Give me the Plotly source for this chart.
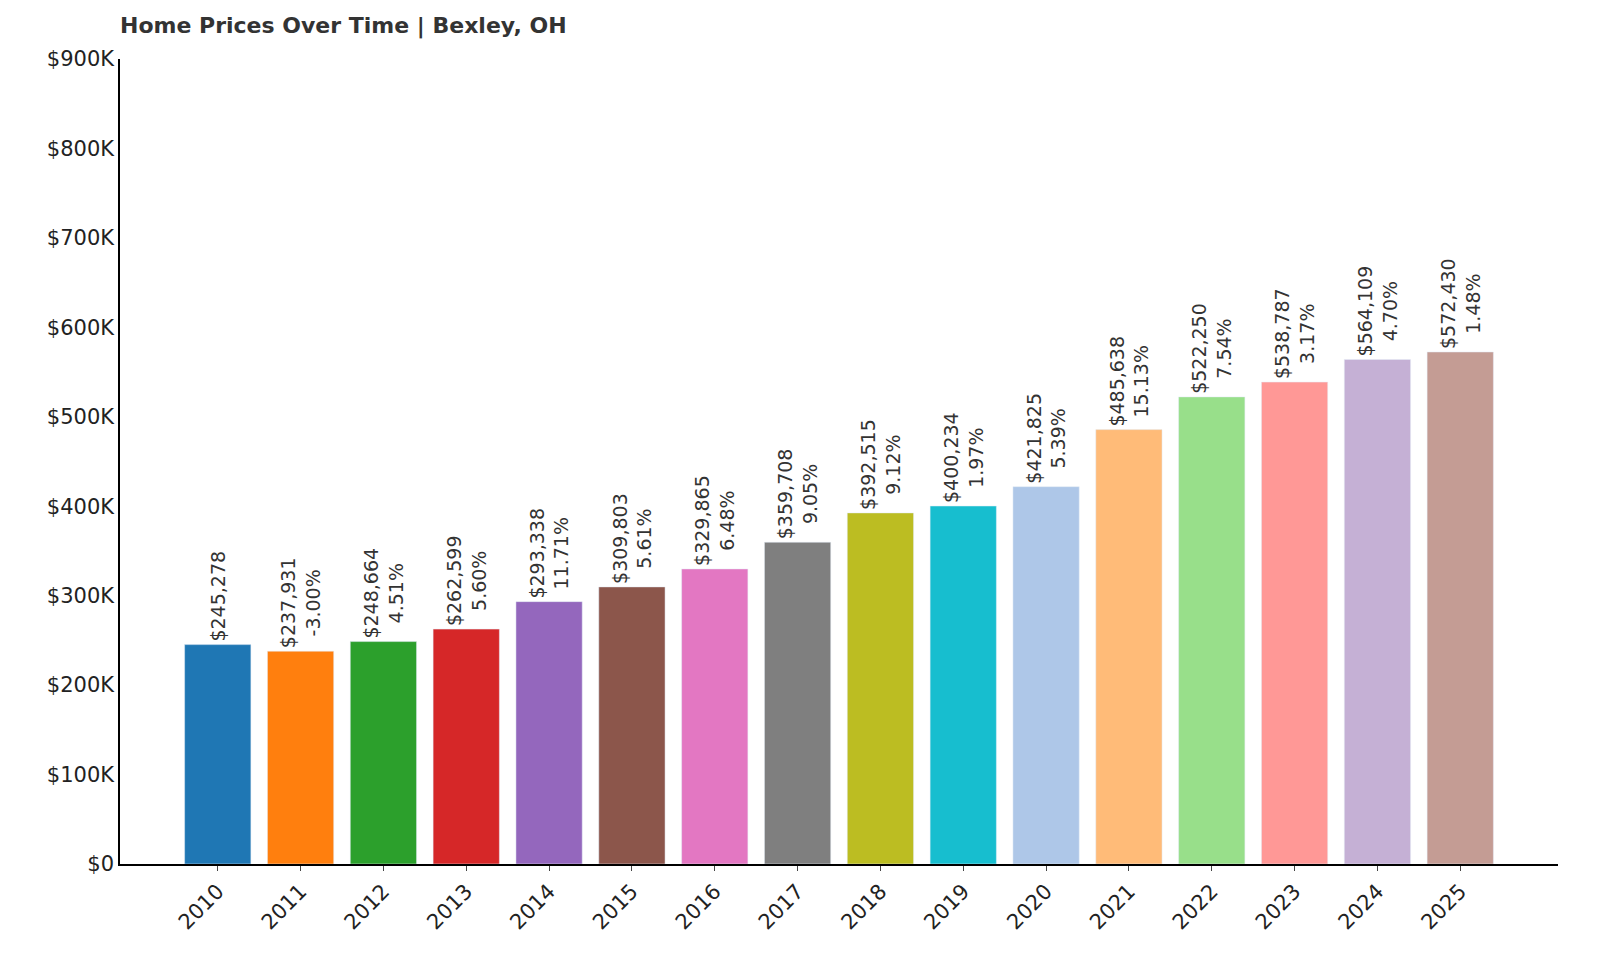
import plotly.graph_objects as go

years = ['2010', '2011', '2012', '2013', '2014', '2015', '2016', '2017',
         '2018', '2019', '2020', '2021', '2022', '2023', '2024', '2025']
prices = [245278, 237931, 248664, 262599, 293338, 309803, 329865, 359708,
          392515, 400234, 421825, 485638, 522250, 538787, 564109, 572430]
changes = [None, '-3.00%', '4.51%', '5.60%', '11.71%', '5.61%', '6.48%', '9.05%',
           '9.12%', '1.97%', '5.39%', '15.13%', '7.54%', '3.17%', '4.70%', '1.48%']
colors = ['#1f77b4', '#ff7f0e', '#2ca02c', '#d62728', '#9467bd', '#8c564b',
          '#e377c2', '#7f7f7f', '#bcbd22', '#17becf', '#aec7e8', '#ffbb78',
          '#98df8a', '#ff9896', '#c5b0d5', '#c49c94']

labels = []
for p, c in zip(prices, changes):
    t = f"${p:,}"
    if c:
        t += f"<br>{c}"
    labels.append(t)

xs = list(range(len(years)))
fig = go.Figure()
fig.add_trace(go.Bar(x=xs, y=prices, marker_color=colors, width=0.8,
                     text=labels, textposition='outside', textangle=-90,
                     constraintext='none', cliponaxis=False,
                     textfont=dict(size=19, color='#333333'),
                     hovertemplate='%{y:$,}<extra></extra>'))

fig.update_layout(
    width=1600, height=960,
    plot_bgcolor='white', paper_bgcolor='white',
    font=dict(family='DejaVu Sans', size=20, color='#222222'),
    margin=dict(l=112, r=50, t=51, b=104),
    title=dict(text='<b>Home Prices Over Time | Bexley, OH</b>', x=0, xref='paper',
               y=0.99, yref='container', xanchor='left',
               font=dict(size=22, color='#333333')),
    showlegend=False,
)
fig.update_xaxes(tickvals=xs, ticktext=years, tickangle=-45, range=[-1.18, 16.18],
                 showline=True, linecolor='black', linewidth=1.5, showgrid=False,
                 ticks='outside', ticklen=5, tickfont=dict(size=21))
fig.update_yaxes(range=[0, 900000], tickvals=list(range(0, 900001, 100000)),
                 ticktext=['$0'] + [f'${k}K' for k in range(100, 901, 100)],
                 showline=True, linecolor='black', linewidth=1.5, showgrid=False,
                 zeroline=False, ticks='', tickfont=dict(size=21))

fig.write_html("out.html")
